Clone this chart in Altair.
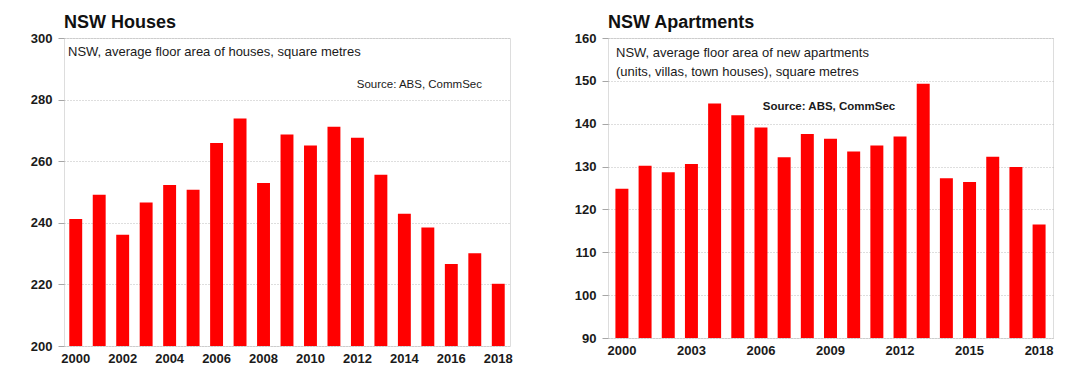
import altair as alt
import pandas as pd

years = list(range(2000, 2019))
houses = [241.2, 249.1, 236.1, 246.6, 252.3, 250.7, 265.9, 273.9, 252.9, 268.7,
          265.1, 271.2, 267.6, 255.6, 242.9, 238.5, 226.6, 230.1, 220.2]
apartments = [124.8, 130.2, 128.7, 130.6, 144.7, 142.0, 139.1, 132.2, 137.6, 136.5,
              133.5, 134.9, 137.0, 149.3, 127.3, 126.4, 132.3, 129.9, 116.5]

houses_title = "NSW Houses"
apts_title = "NSW Apartments"
houses_note = ["NSW, average floor area of houses, square metres"]
apts_note = ["NSW, average floor area of new apartments", "(units, villas, town houses), square metres"]
source = "Source: ABS, CommSec"

houses_ticks = [200, 220, 240, 260, 280, 300]
apts_ticks = [90, 100, 110, 120, 130, 140, 150, 160]
houses_xlabels = list(range(2000, 2019, 2))
apts_xlabels = [2000, 2003, 2006, 2009, 2012, 2015, 2018]

FONT = "Liberation Sans"
RED = "#ff0000"

df_h = pd.DataFrame({"year": years, "value": houses})
df_a = pd.DataFrame({"year": years, "value": apartments})


def panel(df, ymin, ymax, yticks, xlabels, pad_in, pad_out):
    x = alt.X("year:O", title=None,
              scale=alt.Scale(paddingInner=pad_in, paddingOuter=pad_out),
              axis=alt.Axis(values=xlabels, labelAngle=0, ticks=False, domain=False,
                            labelFont=FONT, labelFontSize=13, labelFontWeight="bold",
                            labelColor="#1a1a1a", labelPadding=6, labelOverlap=False))
    y = alt.Y("value:Q", title=None,
              scale=alt.Scale(domain=[ymin, ymax], zero=False, nice=False),
              axis=alt.Axis(values=yticks, grid=True, gridDash=[1, 2], gridColor="#bdbdbd",
                            domain=False, tickSize=6, tickColor="#a6a6a6",
                            labelFont=FONT, labelFontSize=13, labelFontWeight="bold",
                            labelColor="#1a1a1a", labelPadding=6))
    return alt.Chart(df).mark_bar(color=RED).encode(x=x, y=y, y2=alt.datum(ymin))


bars_h = panel(df_h, 200, 300, houses_ticks, houses_xlabels, 0.45, 0.225)
bars_a = panel(df_a, 90, 160, apts_ticks, apts_xlabels, 0.44, 0.32)

note_style = dict(font=FONT, fontSize=13, color="#1a1a1a", align="left", baseline="middle")

h_note = alt.Chart(pd.DataFrame({"t": houses_note})).mark_text(**note_style).encode(
    text="t:N", x=alt.value(4), y=alt.value(14))
h_src = alt.Chart(pd.DataFrame({"t": [source]})).mark_text(
    font=FONT, fontSize=11.5, color="#1a1a1a", align="right", baseline="middle").encode(
    text="t:N", x=alt.value(418), y=alt.value(47))

a_note1 = alt.Chart(pd.DataFrame({"t": [apts_note[0]]})).mark_text(**note_style).encode(
    text="t:N", x=alt.value(8), y=alt.value(15))
a_note2 = alt.Chart(pd.DataFrame({"t": [apts_note[1]]})).mark_text(**note_style).encode(
    text="t:N", x=alt.value(8), y=alt.value(34))
a_src = alt.Chart(pd.DataFrame({"t": [source]})).mark_text(
    font=FONT, fontSize=11.5, fontWeight="bold", color="#1a1a1a", align="center",
    baseline="middle").encode(text="t:N", x=alt.value(221), y=alt.value(69))

title_params = dict(anchor="start", font=FONT, fontSize=18, fontWeight="bold",
                    color="#111111", offset=0, frame="group")

left = alt.layer(bars_h, h_note, h_src).properties(
    width=446, height=308, title=alt.TitleParams(houses_title, **title_params))
right = alt.layer(bars_a, a_note1, a_note2, a_src).properties(
    width=445, height=300, title=alt.TitleParams(apts_title, **title_params))

chart = alt.hconcat(left, right, spacing=60).properties(
    padding={"left": 21, "top": 5, "right": 5, "bottom": 5}
).configure_view(stroke="#a6a6a6", strokeWidth=1).configure(background="white")

chart.save("out.html", embed_options={"renderer": "svg", "actions": False})
